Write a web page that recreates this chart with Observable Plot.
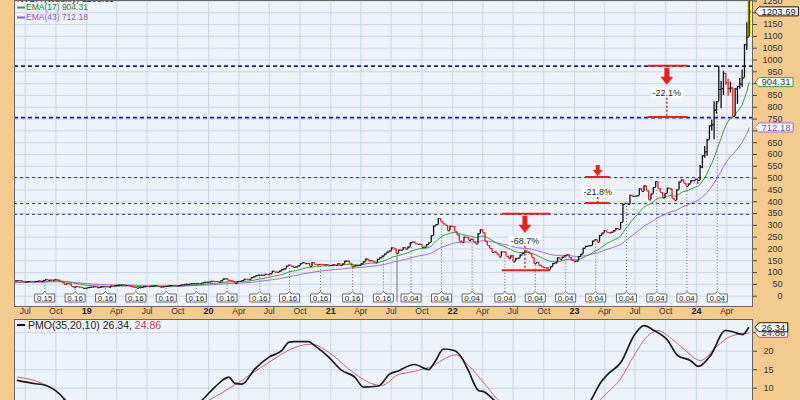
<!DOCTYPE html>
<html><head><meta charset="utf-8">
<script src="https://cdn.jsdelivr.net/npm/d3@7"></script>
<script src="https://cdn.jsdelivr.net/npm/@observablehq/plot@0.6"></script>
<style>
html,body{margin:0;padding:0;background:#f3cb8e;width:800px;height:400px;overflow:hidden;}
#chart svg{display:block;}
</style></head><body><div id="chart"></div>
<script>
// ---- weekly closes (Friday), split-adjusted 2021 ----
const start2018 = "2018-01-05";
const c2018 = [53.3,55.5,57.5,61.8,58.0,54.5,60.8,60.5,59.3,62.0,61.3,55.8,58.0,55.5,56.0,56.3,56.0,59.0,64.3,61.3,62.5,64.8,66.3,65.8,62.5,59.2,61.3,62.5,62.3,61.5,62.5,64.2,61.3,66.0,70.2,66.8,68.0,67.5,70.2,67.8,61.5,57.8,49.5,53.5,51.3,41.0,36.3,40.8,38.8,37.0,32.5,33.3];
const start2019 = "2019-01-04";
const c2019 = [36.0,37.5,39.3,40.0,36.0,37.3,39.8,40.0,39.5,37.5,42.8,42.5,45.0,46.3,47.0,47.8,45.0,45.0,41.8,38.8,36.8,33.8,36.0,37.0,40.5,41.0,40.8,42.3,43.0,44.3,40.8,38.3,39.5,41.5,42.0,44.3,45.0,44.5,43.3,44.5,47.3,48.5,50.3,50.5,51.8,52.8,52.8,54.3,52.8,55.5,59.0,59.5];
const start2020 = "2020-01-03";
const c2020 = [59.8,63.0,62.3,62.0,59.0,65.0,72.3,73.8,67.0,65.5,60.5,53.3,62.3,62.8,66.3,71.8,70.8,70.3,78.3,82.0,86.8,88.8,88.8,89.0,92.5,90.8,95.0,105.5,102.0,100.8,106.0,112.0,115.0,127.0,131.5,126.3,121.5,123.3,128.3,137.5,141.8,137.8,138.0,125.3,142.5,134.8,132.8,134.5,134.3,132.8,132.8,129.8];
const start2021 = "2021-01-01";
const c2021 = [130.5,133.3,130.8,137.3,130.0,136.3,148.0,148.3,137.0,124.5,128.0,129.3,130.0,137.5,145.5,157.0,150.0,150.0,145.3,141.3,156.3,162.3,170.0,178.3,186.3,191.5,204.5,200.0,181.0,195.0,195.0,205.0,199.0,208.0,226.0,229.0,222.0,219.0,220.0,207.0,208.0,219.0,227.0,256.0,297.0,303.0,329.0,315.0,306.0,300.0,277.0,296.0,294.0];
const start2022 = "2022-01-07";
const c2022 = [273,259,233,228,250,248,236,241,229,221,264,281,268,231,214,202,185,187,178,166,188,187,169,159,171,145,158,161,174,182,191,187,180,163,137,143,131,125,121,120,113,125,138,141,163,155,165,171,175,163,152,146];
const start2023 = "2023-01-06";
const c2023 = [148,168,178,203,211,213,214,233,239,229,257,267,278,270,268,271,277,287,283,312,389,393,388,427,422,423,425,455,443,467,446,408,433,460,485,455,439,416,435,457,454,413,405,450,483,492,478,465,475,489,489,495];
const start2024 = "2024-01-05";
const c2024 = [490,547,595,611,662,721,726,788,823,875,879,943,903,880,881,762,877,888,898,924,1065,1097,1203.69];
const h2024 = [497,553,595,634,663,721,746,823,823,974,909,951,942,918,906,883,879,887,922,958,1065,1158,1255];
const l2024 = [473,494,540,584,593,680,699,662,771,852,794,850,893,847,860,756,771,812,876,885,925,1040,1098];

// ---- indicator labels / last values ----
const emaPeriods = [17, 43];
const emaLast = [904.31, 712.18];
const lastClose = 1203.69;
const pmoLabel = "PMO(35,20,10)";
const pmoLast = [26.34, 24.86];

// ---- PMO panel ----
const pmoDates = ["2018-06-08","2018-07-31","2018-08-21","2018-10-11","2018-10-29","2019-03-15","2019-12-12","2020-01-20","2020-03-02","2020-03-20","2020-04-10","2020-05-19","2020-06-30","2020-08-08","2020-08-28","2020-09-15","2020-10-27","2020-11-14","2020-12-26","2021-02-03","2021-03-14","2021-04-09","2021-05-24","2021-06-26","2021-07-26","2021-08-01","2021-09-09","2021-10-21","2021-11-08","2021-12-05","2022-01-06","2022-01-27","2022-02-17","2022-03-19","2022-04-06","2022-05-06","2022-10-20","2023-02-19","2023-03-21","2023-04-11","2023-05-20","2023-06-28","2023-07-28","2023-08-27","2023-10-07","2023-11-06","2023-12-14","2024-01-07","2024-02-12","2024-03-28","2024-04-21","2024-05-18","2024-06-05"];
const pmoVals = [12.1,11.2,11.0,8.5,6.7,-5,6.7,10.3,13.0,11.3,11.1,15.2,18.4,20.2,22.4,22.6,22.6,21.5,18.4,14.8,13.0,10.3,10.6,13.8,14.8,15.1,16.4,15.0,17.0,20.6,20.2,18.4,14.8,9.4,9.0,6.7,-10,6.7,11.6,13.8,17.0,24.2,26.9,25.6,22.9,18.8,17.5,15.9,18.8,25.6,25.2,24.5,26.34];
const sigDates = ["2018-06-08","2018-08-21","2018-10-20","2018-11-04","2019-03-15","2020-01-02","2020-03-20","2020-06-30","2020-09-15","2020-11-05","2020-12-26","2021-02-24","2021-04-24","2021-06-02","2021-07-26","2021-08-01","2021-10-21","2022-01-12","2022-02-17","2022-04-06","2022-05-12","2022-05-27","2022-10-20","2023-03-30","2023-05-20","2023-06-28","2023-08-09","2023-09-08","2023-10-07","2023-11-24","2024-01-13","2024-03-04","2024-04-12","2024-06-05"];
const sigVals = [13.0,11.3,7.9,6.5,-5,6.7,10.9,17.0,21.0,21.9,19.7,15.2,11.6,10.7,13.8,13.9,15.6,19.0,16.2,11.3,7.3,6.0,-8,7.9,12.7,18.8,24.2,25.6,24.2,20.6,17.5,21.5,24.0,24.86];

// ---- dividends & split ----
const divDates = ["2018-08-30","2018-11-29","2019-02-28","2019-05-30","2019-08-29","2019-11-27","2020-02-27","2020-06-04","2020-09-01","2020-12-03","2021-03-09","2021-06-09","2021-08-31","2021-11-30","2022-03-02","2022-06-08","2022-09-07","2022-12-07","2023-03-07","2023-06-07","2023-09-06","2023-12-05","2024-03-05"];
const divAmounts = [0.15,0.16,0.16,0.16,0.16,0.16,0.16,0.16,0.16,0.16,0.16,0.16,0.04,0.04,0.04,0.04,0.04,0.04,0.04,0.04,0.04,0.04,0.04];
const splitDate = "2021-07-20";

// ---- drawdown annotations ----
const ddTop = [346.47, 502.66, 974.00];
const ddBottom = [108.13, 392.30, 756.06];
const ddLabel = ["-68.7%", "-21.8%", "-22.1%"];
const ddStart = ["2022-05-30", "2023-02-03", "2023-08-10"];
const ddEnd = ["2022-10-21", "2023-04-18", "2023-12-07"];
const ddMid = ["2022-08-07", "2023-03-13", "2023-10-06"];
const majorLevels = [974.00, 756.06];
const minorLevels = [502.66, 392.30, 346.47];

// ---- ticks ----
const priceTicks = d3.range(0, 1251, 50);
const pmoTicks = [5, 10, 15, 20, 25];
const pmoTickLabels = [10, 15, 20, 25];
const xDomain = [new Date("2018-05-30"), new Date("2024-06-17")];
const quarterTicks = d3.utcMonth.every(3).range(new Date("2018-07-01"), new Date("2024-06-01"));

// ---- build weekly table ----
const rows = [];
[[start2018, c2018], [start2019, c2019], [start2020, c2020], [start2021, c2021],
 [start2022, c2022], [start2023, c2023], [start2024, c2024, h2024, l2024]].forEach(([s, cs, hs, ls]) => {
  const d0 = new Date(s);
  cs.forEach((c, i) => rows.push({date: d3.utcDay.offset(d0, 7 * i), close: c, hi0: hs ? hs[i] : null, lo0: ls ? ls[i] : null}));
});
rows.forEach((r, i) => {
  r.prev = i ? rows[i - 1].close : r.close;
  r.hi = Math.max(r.prev, r.close, r.hi0 ?? -Infinity);
  r.lo = Math.min(r.prev, r.close, r.lo0 ?? Infinity);
  r.up = r.close >= r.prev;
});
function ema(vals, n) { const a = 2 / (n + 1); let e = vals[0]; return vals.map(v => (e = e + a * (v - e))); }
const e1 = ema(rows.map(r => r.close), emaPeriods[0]);
const e2 = ema(rows.map(r => r.close), emaPeriods[1]);
rows.forEach((r, i) => { r.e1 = e1[i]; r.e2 = e2[i]; });
const pmoRows = pmoDates.map((d, i) => ({date: new Date(d), v: pmoVals[i]}));
const sigRows = sigDates.map((d, i) => ({date: new Date(d), v: sigVals[i]}));

const GREEN = "#3a9a3a", PURPLE = "#9b6bd6", RED = "#e3221d", BG = "#eef2fa", GRID = "#c8d7ec", TAN = "#f3cb8e";
const FONT = "Liberation Sans, Arial, sans-serif";
const barColor = d => d.up ? "#111" : "#e0201c";
const tickR = {draw(ctx) { ctx.moveTo(0, 0); ctx.lineTo(1.6, 0); }};
const tickL = {draw(ctx) { ctx.moveTo(-1.6, 0); ctx.lineTo(0, 0); }};

// hide axis labels hidden under the value tags (as in the reference)
const priceLabelTicks = priceTicks.filter(t => ![lastClose, ...emaLast].some(v => Math.abs(v - t) < 30));
const pmoLabelTicks = pmoTickLabels.filter(t => !pmoLast.some(v => Math.abs(v - t) < 2));

function tag(g, x0, y, label, stroke, fill) {
  const w = label.replace(/\./g, "").length * 5.28 + (label.includes(".") ? 2.64 : 0) + 5;
  g.append("path").attr("d", `M${x0},${y}L${x0 + 4},${y - 4.5}H${x0 + 4 + w}V${y + 4.5}H${x0 + 4}Z`)
    .attr("fill", "white").attr("stroke", stroke).attr("stroke-width", 1);
  g.append("text").attr("x", x0 + 4 + w / 2).attr("y", y).attr("dy", "0.35em").attr("text-anchor", "middle")
    .attr("font-size", 9.5).attr("font-family", FONT).attr("fill", fill).text(label);
}

const dividendMark = (index, scales, values, dims) => {
  const g = d3.create("svg:g");
  const base = dims.height - dims.marginBottom;
  const bt = base - 12, bb = base - 4;
  const sd = new Date(splitDate), sr = rows.find(r => r.date >= sd);
  g.append("line").attr("x1", scales.x(sd)).attr("x2", scales.x(sd)).attr("y1", scales.y(sr.lo)).attr("y2", bb)
    .attr("stroke", "#999").attr("stroke-width", 1.5);
  divDates.forEach((ds, i) => {
    const d = new Date(ds), x = scales.x(d);
    const r = rows.find(r => r.date >= d);
    g.append("line").attr("x1", x).attr("x2", x).attr("y1", scales.y(r.lo) + 2).attr("y2", bt - 2)
      .attr("stroke", "#666").attr("stroke-dasharray", "1,2");
    g.append("path").attr("d", `M${x - 10},${bt}H${x - 2.5}L${x},${bt - 2.5}L${x + 2.5},${bt}H${x + 10}V${bb}H${x - 10}Z`)
      .attr("fill", "white").attr("stroke", "#444").attr("stroke-width", 0.8);
    g.append("text").attr("x", x).attr("y", (bt + bb) / 2).attr("dy", "0.35em").attr("text-anchor", "middle")
      .attr("font-size", 8).attr("font-family", FONT).attr("fill", "#222").text(divAmounts[i].toFixed(2));
  });
  return g.node();
};

const drawdownMark = (index, scales, values, dims) => {
  const g = d3.create("svg:g");
  ddTop.forEach((top, i) => {
    const x1 = scales.x(new Date(ddStart[i])), x2 = scales.x(new Date(ddEnd[i])), xm = scales.x(new Date(ddMid[i]));
    const yt = scales.y(top), yb = scales.y(ddBottom[i]);
    [yt, yb].forEach(y => g.append("line").attr("x1", x1).attr("x2", x2).attr("y1", y).attr("y2", y)
      .attr("stroke", RED).attr("stroke-width", 2));
    const tight = yb - yt < 40;
    const len = tight ? 11 : 17, hw = tight ? 5 : 6.5, sw = tight ? 2 : 2.5, hl = tight ? 6 : 8;
    const a0 = tight ? yt - len - 1 : yt + 2, a1 = a0 + len;
    g.append("path").attr("d", `M${xm - sw},${a0}H${xm + sw}V${a1 - hl}H${xm + hw}L${xm},${a1}L${xm - hw},${a1 - hl}H${xm - sw}Z`)
      .attr("fill", RED);
    const ty = tight ? yt + 15 : yt + 27;
    g.append("rect").attr("x", xm - 16).attr("y", ty - 5).attr("width", 32).attr("height", 10).attr("fill", "white");
    g.append("line").attr("x1", xm).attr("x2", xm).attr("y1", ty + 5).attr("y2", yb)
      .attr("stroke", RED).attr("stroke-width", 1.5).attr("stroke-dasharray", "2,2");
    g.append("text").attr("x", xm).attr("y", ty).attr("dy", "0.35em").attr("text-anchor", "middle")
      .attr("font-size", 9).attr("font-family", FONT).attr("fill", "#222").text(ddLabel[i]);
  });
  return g.node();
};

const mainLegend = (index, scales, values, dims) => {
  const g = d3.create("svg:g").attr("font-family", FONT).attr("text-anchor", "start");
  g.append("text").attr("x", 17).attr("y", 2).attr("text-anchor", "start").attr("font-size", 9).attr("fill", "#222")
    .text("NVDA (Weekly) " + lastClose.toFixed(2));
  [[GREEN, 0], ["#9060c8", 1]].forEach(([c, i]) => {
    const y = 7.5 + i * 10;
    g.append("line").attr("x1", 17).attr("x2", 25).attr("y1", y).attr("y2", y).attr("stroke", c).attr("stroke-width", 2);
    g.append("text").attr("x", 26).attr("y", y).attr("dy", "0.35em").attr("text-anchor", "start")
      .attr("font-size", 8.5).attr("fill", i ? "#8a55c0" : "#2d7d2d")
      .text(`EMA(${emaPeriods[i]}) ${emaLast[i].toFixed(2)}`);
  });
  return g.node();
};

const mainTags = (index, scales, values, dims) => {
  const g = d3.create("svg:g");
  const x0 = dims.width - dims.marginRight + 3;
  tag(g, x0, scales.y(emaLast[1]), emaLast[1].toFixed(2), PURPLE, "#7a48b0");
  tag(g, x0, scales.y(emaLast[0]), emaLast[0].toFixed(2), GREEN, "#333");
  tag(g, x0, scales.y(lastClose), lastClose.toFixed(2), "#111", "#111");
  return g.node();
};

const pmoLegend = (index, scales, values, dims) => {
  const g = d3.create("svg:g").attr("font-family", FONT).attr("text-anchor", "start");
  g.append("line").attr("x1", 17).attr("x2", 25).attr("y1", 7).attr("y2", 7).attr("stroke", "#111").attr("stroke-width", 2);
  const t = g.append("text").attr("x", 28).attr("y", 7).attr("dy", "0.35em").attr("text-anchor", "start")
    .attr("font-size", 10.5).attr("fill", "#222");
  t.append("tspan").text(`${pmoLabel} ${pmoLast[0].toFixed(2)}, `);
  t.append("tspan").attr("fill", "#b04060").text(pmoLast[1].toFixed(2));
  const x0 = dims.width - dims.marginRight + 3;
  tag(g, x0, scales.y(pmoLast[1]), pmoLast[1].toFixed(2), "#c04060", "#333");
  tag(g, x0, scales.y(pmoLast[0]), pmoLast[0].toFixed(2), "#111", "#111");
  return g.node();
};

const xLabel = d => d.getUTCMonth() === 0 ? String(d.getUTCFullYear()).slice(2) : d3.utcFormat("%b")(d);

const main = Plot.plot({
  width: 800, height: 318,
  marginLeft: 14, marginRight: 48, marginTop: 0, marginBottom: 12,
  style: {background: TAN, fontFamily: FONT, fontSize: "9px", color: "#444", overflow: "visible"},
  x: {type: "utc", domain: xDomain, axis: null},
  y: {domain: [-43.6, 1251.9], axis: "right", ticks: priceTicks, tickSize: 4, tickFormat: () => "", label: null},
  marks: [
    Plot.frame({fill: BG, stroke: "none"}),
    Plot.ruleY(priceTicks, {stroke: GRID}),
    Plot.ruleX(quarterTicks, {stroke: GRID}),
    Plot.ruleY(minorLevels, {stroke: "#3333a0", strokeWidth: 1, strokeDasharray: "3,3"}),
    Plot.ruleY(majorLevels, {stroke: "#1c1ca0", strokeWidth: 1.6, strokeDasharray: "4,3"}),
    Plot.line(rows, {x: "date", y: "e2", stroke: PURPLE, strokeWidth: 1, clip: true}),
    Plot.line(rows, {x: "date", y: "e1", stroke: GREEN, strokeWidth: 1, clip: true}),
    dividendMark,
    Plot.ruleX(rows.slice(-1), {x: "date", y1: "lo", y2: "hi", stroke: "#e8e830", strokeWidth: 4, clip: true}),
    Plot.ruleX(rows, {x: "date", y1: "lo", y2: "hi", stroke: barColor, strokeWidth: 1.3, clip: true}),
    Plot.dot(rows, {x: "date", y: "close", symbol: tickR, r: 1, fill: "none", stroke: barColor, strokeWidth: 1, clip: true}),
    Plot.dot(rows, {x: "date", y: "prev", symbol: tickL, r: 1, fill: "none", stroke: barColor, strokeWidth: 1, clip: true}),
    drawdownMark,
    mainLegend,
    Plot.frame({stroke: "#666"}),
    Plot.text(priceLabelTicks, {y: d => d, text: d => String(d), frameAnchor: "right", dx: 30, textAnchor: "end", fill: "#333", fontSize: 9}),
    mainTags,
    Plot.text(quarterTicks.filter(d => d.getUTCMonth() !== 0), {x: d => d, text: xLabel, frameAnchor: "bottom", dy: 7, fill: "#333", fontSize: 8.5}),
    Plot.text(quarterTicks.filter(d => d.getUTCMonth() === 0), {x: d => d, text: xLabel, frameAnchor: "bottom", dy: 7, fill: "#222", fontSize: 9, fontWeight: "bold"})
  ]
});

const pmo = Plot.plot({
  width: 800, height: 100,
  marginLeft: 14, marginRight: 48, marginTop: 1, marginBottom: 0,
  style: {background: TAN, fontFamily: FONT, fontSize: "9px", color: "#444", overflow: "visible"},
  x: {type: "utc", domain: xDomain, axis: null},
  y: {domain: [1.81, 28.57], axis: "right", ticks: pmoTicks, tickSize: 4, tickFormat: () => "", label: null},
  marks: [
    Plot.frame({fill: BG, stroke: "none"}),
    Plot.ruleY(pmoTicks, {stroke: GRID}),
    Plot.ruleX(quarterTicks, {stroke: GRID}),
    Plot.line(sigRows, {x: "date", y: "v", stroke: "#c8607a", strokeWidth: 1, curve: "monotone-x", clip: true}),
    Plot.line(pmoRows, {x: "date", y: "v", stroke: "#1a1a1a", strokeWidth: 1.7, curve: "monotone-x", clip: true}),
    Plot.frame({stroke: "#666"}),
    Plot.text(pmoLabelTicks, {y: d => d, text: d => String(d), frameAnchor: "right", dx: 21, textAnchor: "end", fill: "#333", fontSize: 9}),
    pmoLegend
  ]
});

document.getElementById("chart").append(main, pmo);
</script></body></html>
